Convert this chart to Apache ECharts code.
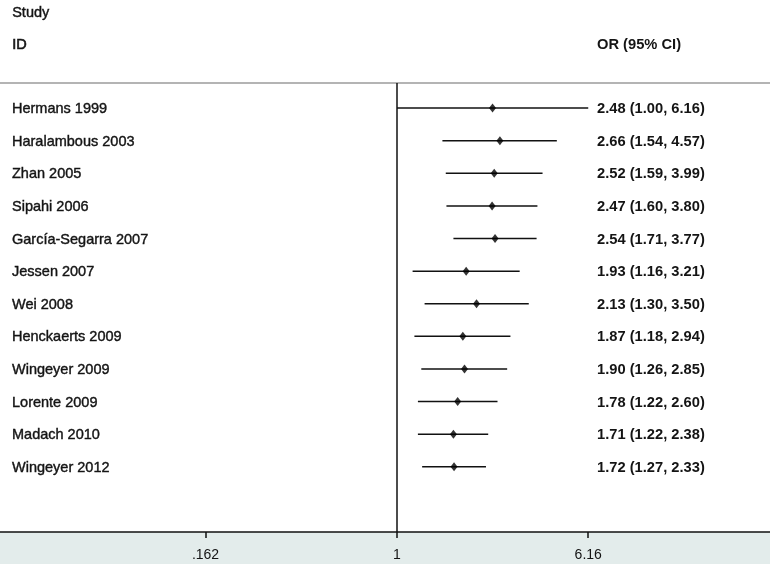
<!DOCTYPE html>
<html>
<head>
<meta charset="utf-8">
<script src="https://cdn.jsdelivr.net/npm/echarts@6/dist/echarts.min.js"></script>
<style>
html, body { margin: 0; padding: 0; background: #fff; }
#chart { width: 770px; height: 564px; }
</style>
</head>
<body>
<div id="chart"></div>
<script>
// study rows, top to bottom
var studies = ['Hermans 1999', 'Haralambous 2003', 'Zhan 2005', 'Sipahi 2006',
	'García-Segarra 2007', 'Jessen 2007', 'Wei 2008', 'Henckaerts 2009',
	'Wingeyer 2009', 'Lorente 2009', 'Madach 2010', 'Wingeyer 2012'];
var orValues = [2.48, 2.66, 2.52, 2.47, 2.54, 1.93, 2.13, 1.87, 1.90, 1.78, 1.71, 1.72];
var ciLow = [1.00, 1.54, 1.59, 1.60, 1.71, 1.16, 1.30, 1.18, 1.26, 1.22, 1.22, 1.27];
var ciHigh = [6.16, 4.57, 3.99, 3.80, 3.77, 3.21, 3.50, 2.94, 2.85, 2.60, 2.38, 2.33];
var tickValues = [0.162, 1, 6.16];
var tickLabels = ['.162', '1', '6.16'];

var fmt = function(v){ return v.toFixed(2); };

// plotted on ln scale
var ciData = studies.map(function(name, i){
	return [Math.log(ciLow[i]), i, Math.log(ciHigh[i])];
});
var pointData = orValues.map(function(v, i){
	return [Math.log(v), i];
});
var tickLn = tickValues.map(function(v){ return Math.log(v); });

var leftFont = '14.5px "Liberation Sans", Arial';
var rightFont = 'bold 14.7px "Liberation Sans", Arial';
var ink = '#141414';

var chart = echarts.init(document.getElementById('chart'));

var option = {
	backgroundColor: '#ffffff',
	animation: false,
	textStyle: { fontFamily: 'Liberation Sans, Arial, sans-serif' },
	grid: { left: 0, right: 0, top: 83, bottom: 32 },
	graphic: [
		{ type: 'rect', z: -10, shape: { x: 0, y: 532, width: 770, height: 32 }, style: { fill: '#e3eceb' } },
		{ type: 'line', shape: { x1: 0, y1: 83, x2: 770, y2: 83 }, style: { stroke: '#b4b4b4', lineWidth: 2 } },
		{ type: 'text', left: 12, top: 5, style: { text: 'Study', font: leftFont, fill: ink, stroke: ink, lineWidth: 0.4 } },
		{ type: 'text', left: 12, top: 37, style: { text: 'ID', font: leftFont, fill: ink, stroke: ink, lineWidth: 0.6 } },
		{ type: 'text', left: 597, top: 37, style: { text: 'OR (95% CI)', font: rightFont, fill: ink } }
	],
	xAxis: {
		type: 'value',
		min: -3.774,
		max: 3.546,
		position: 'bottom',
		axisLine: { show: true, onZero: false, lineStyle: { color: '#111', width: 1.5 } },
		axisTick: { show: true, customValues: tickLn, length: 6, lineStyle: { color: '#111', width: 1.5 } },
		axisLabel: {
			customValues: tickLn,
			margin: 16,
			fontSize: 14,
			color: ink,
			formatter: function(v){
				for(var k = 0; k < tickLn.length; k++){
					if(Math.abs(tickLn[k] - v) < 1e-6) return tickLabels[k];
				}
				return '';
			}
		},
		splitLine: { show: false }
	},
	yAxis: {
		type: 'value',
		inverse: true,
		min: -0.77,
		max: 13,
		show: false
	},
	series: [
		{
			type: 'custom',
			encode: { x: [0, 2], y: 1 },
			data: ciData,
			renderItem: function(params, api){
				var i = api.value(1);
				var a = api.coord([api.value(0), i]);
				var b = api.coord([api.value(2), i]);
				return {
					type: 'group',
					children: [
						{ type: 'line', shape: { x1: a[0], y1: a[1], x2: b[0], y2: b[1] },
							style: { stroke: '#111', lineWidth: 1.5 } },
						{ type: 'text', style: { x: 12, y: a[1] + 1, text: studies[i],
							font: leftFont, fill: ink, stroke: ink, lineWidth: 0.4, verticalAlign: 'middle' } },
						{ type: 'text', style: { x: 597, y: a[1] + 1,
							text: fmt(orValues[i]) + ' (' + fmt(ciLow[i]) + ', ' + fmt(ciHigh[i]) + ')',
							font: rightFont, fill: ink, verticalAlign: 'middle' } }
					]
				};
			}
		},
		{
			type: 'scatter',
			data: pointData,
			symbol: 'diamond',
			symbolSize: [7, 9],
			itemStyle: { color: '#000' },
			z: 5,
			markLine: {
				silent: true,
				symbol: 'none',
				label: { show: false },
				lineStyle: { color: '#111', width: 1.5, type: 'solid' },
				data: [{ xAxis: 0 }]
			}
		}
	]
};

chart.setOption(option);
</script>
</body>
</html>
